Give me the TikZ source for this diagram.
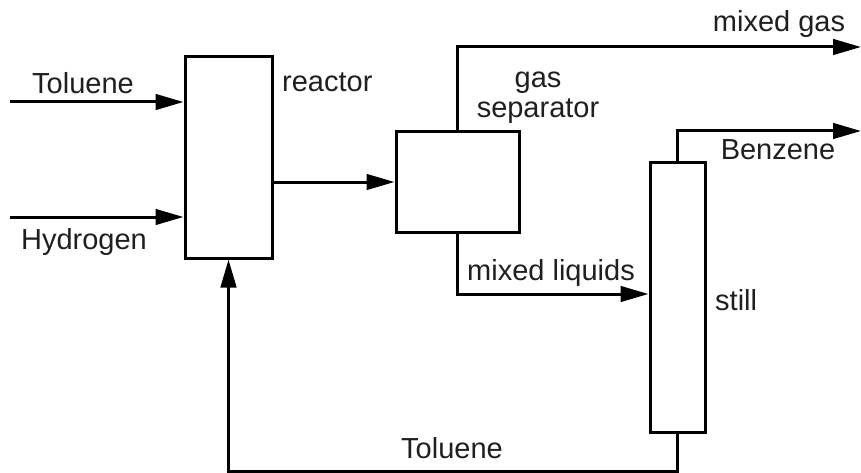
\documentclass[tikz,border=0pt]{standalone}
\usepackage{fontspec}
\setmainfont{Liberation Sans}
\usetikzlibrary{arrows.meta}
\begin{document}
\begin{tikzpicture}[x=1pt,y=-1pt,
  box/.style={draw, rectangle, inner sep=0pt, line width=3pt},
  flow/.style={-{Triangle[length=28pt,width=15.5pt]}, line width=3pt},
  lbl/.style={font=\fontsize{29}{31}\selectfont, inner sep=0pt, text=black!88}]
\useasboundingbox (0,0) rectangle (861,473);
% boxes
\node[box, minimum width=87pt, minimum height=201pt] (reactor) at (228.5,157.5) {};
\node[box, minimum width=123pt, minimum height=100pt] (sep) at (457.5,182) {};
\node[box, minimum width=55pt, minimum height=269pt] (still) at (677.5,297.5) {};
% free ends
\coordinate (tolin) at (10,102);
\coordinate (h2in) at (10,217);
\coordinate (gasout) at (861,47);
\coordinate (bzout) at (861,131);
\coordinate (liq) at (650,294);
% connectors
\draw[flow] (tolin) -- (tolin -| reactor.west);
\draw[flow] (h2in) -- (h2in -| reactor.west);
\draw[flow] (reactor.east |- sep.west) -- (sep.west);
\draw[flow] (sep.north) |- (gasout);
\draw[flow] (still.north) |- (bzout);
\draw[flow] (sep.south) |- (liq -| still.west);
\draw[flow] (still.south) -- ++(0,38) -| (reactor.south);
% labels
\node[lbl, anchor=base] (ltol) at (83,94) {Toluene};
\node[lbl, anchor=base] (lh2) at (84,249) {Hydrogen};
\node[lbl, anchor=base west] (lreac) at (282,92) {reactor};
\node[lbl, anchor=base] (lgas) at (538,88) {gas};
\node[lbl, anchor=base] (lsep) at (538,118) {separator};
\node[lbl, anchor=base] (lmg) at (779,32) {mixed gas};
\node[lbl, anchor=base] (lbz) at (778,160) {Benzene};
\node[lbl, anchor=base] (lml) at (551,280) {mixed liquids};
\node[lbl, anchor=base west] (lstill) at (715,310) {still};
\node[lbl, anchor=base] (ltol2) at (452,458) {Toluene};
\end{tikzpicture}
\end{document}
